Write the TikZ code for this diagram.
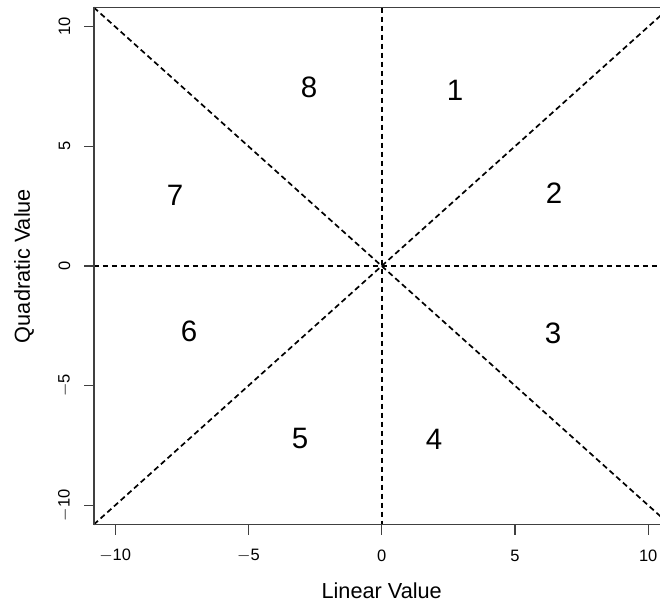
\documentclass[tikz,border=0pt]{standalone}
\usepackage{fontspec}
\setmainfont{Liberation Sans}
\begin{document}
\begin{tikzpicture}[x=1pt,y=-1pt,
  framebox/.style={draw=black!75,line width=1.4pt},
  tickline/.style={draw=black!75,line width=1.2pt},
  guide/.style={draw=black,line width=1.7pt,dash pattern=on 5.5pt off 3.5pt},
  ticklab/.style={font=\fontsize{16.5}{16.5}\selectfont,inner sep=0pt},
  axtitle/.style={font=\fontsize{21.7}{21.7}\selectfont,inner sep=0pt},
  region/.style={font=\fontsize{29.5}{29.5}\selectfont,inner sep=0pt}]
\useasboundingbox (0,0) rectangle (660,604);
\clip (0,0) rectangle (660,604);
\begin{scope}[shift={(381.7,266)},x=26.65pt,y=23.93pt]
  % frame corners
  \coordinate (bl) at (-10.8,-10.8);
  \coordinate (tr) at (10.8,10.8);
  \coordinate (tl) at (-10.8,10.8);
  \coordinate (br) at (10.8,-10.8);
  \coordinate (top0) at (0,10.8);
  \coordinate (bot0) at (0,-10.8);
  \coordinate (left0) at (-10.8,0);
  \coordinate (right0) at (10.8,0);
  % guides
  \draw[guide] (tl) -- (br);
  \draw[guide] (bl) -- (tr);
  \draw[guide] (top0) -- (bot0);
  \draw[guide] (left0) -- (right0);
  % frame
  \draw[framebox] (bl) rectangle (tr);
  % x ticks
  \foreach \v/\t in {-10/$-$10,-5/$-$5,0/0,5/5,10/10}{
    \draw[tickline] (\v,-10.8) -- ++(0,-0.45);
    \node[ticklab] (xt\v) at (\v,-12.1) {\t};
  }
  % y ticks
  \foreach \v/\t in {-10/$-$10,-5/$-$5,0/0,5/5,10/10}{
    \draw[tickline] (-10.8,\v) -- ++(-0.38,0);
    \node[ticklab,rotate=90] (yt\v) at (-11.9,\v) {\t};
  }
\end{scope}
\node[axtitle] (xlab) at (381.7,591) {Linear Value};
\node[axtitle,rotate=90] (ylab) at (24,266) {Quadratic Value};
% region numbers
\node[region] (r1) at (455,90) {1};
\node[region] (r2) at (554,193) {2};
\node[region] (r3) at (553,333) {3};
\node[region] (r4) at (434,439) {4};
\node[region] (r5) at (300,438) {5};
\node[region] (r6) at (189,331) {6};
\node[region] (r7) at (175,195) {7};
\node[region] (r8) at (309,87) {8};
\end{tikzpicture}
\end{document}
